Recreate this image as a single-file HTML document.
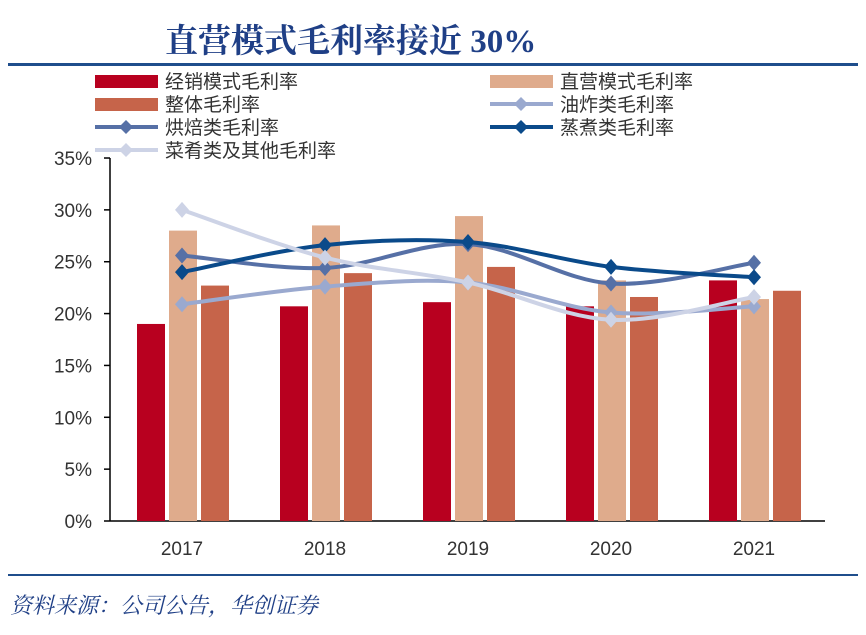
<!DOCTYPE html>
<html><head><meta charset="utf-8"><style>
body{margin:0;width:866px;height:635px;background:#fff;overflow:hidden;font-family:"Liberation Sans","Noto Sans CJK SC",sans-serif}
</style></head><body>
<svg id="s" width="866" height="635" xmlns="http://www.w3.org/2000/svg" style="position:absolute;left:0;top:0">
<text x="165" y="52" font-family="'Liberation Serif','Noto Serif CJK SC',serif" font-weight="bold" font-size="33" fill="#1F3F86">直营模式毛利率接近 30%</text>
<rect x="8" y="63" width="850" height="3" fill="#1F4E8C"/>
<rect x="8" y="574" width="850" height="2" fill="#1F4E8C"/>
<text x="10" y="613" font-family="'Liberation Serif','Noto Serif CJK SC',serif" font-style="italic" font-size="22" fill="#1F3F86">资料来源：公司公告，华创证券</text>
<g font-family="'Liberation Sans','Noto Sans CJK SC',sans-serif" font-size="19" fill="#333">
<rect x="95" y="75" width="63" height="13" fill="#B8001F"/><text x="165" y="88">经销模式毛利率</text>
<rect x="490" y="75" width="63" height="13" fill="#DFAB8C"/><text x="560" y="88">直营模式毛利率</text>
<rect x="95" y="98" width="63" height="13" fill="#C6644A"/><text x="165" y="111">整体毛利率</text>
<line x1="490" x2="553" y1="104" y2="104" stroke="#9AA9CF" stroke-width="4"/><path d="M521 97l7 7-7 7-7-7z" fill="#9AA9CF"/><text x="560" y="111">油炸类毛利率</text>
<line x1="95" x2="158" y1="127" y2="127" stroke="#5670A6" stroke-width="4"/><path d="M126 120l7 7-7 7-7-7z" fill="#5670A6"/><text x="165" y="134">烘焙类毛利率</text>
<line x1="490" x2="553" y1="127" y2="127" stroke="#0A4A8A" stroke-width="4"/><path d="M521 120l7 7-7 7-7-7z" fill="#0A4A8A"/><text x="560" y="134">蒸煮类毛利率</text>
<line x1="95" x2="158" y1="150" y2="150" stroke="#CDD3E6" stroke-width="4"/><path d="M126 143l7 7-7 7-7-7z" fill="#CDD3E6"/><text x="165" y="157">菜肴类及其他毛利率</text>
</g>
<g id="ax" font-size="19" fill="#333" font-family="'Liberation Sans',sans-serif"></g>
<g id="plot"></g>
</svg>
<script>
var ax=document.getElementById('ax'),pl=document.getElementById('plot'),NS='http://www.w3.org/2000/svg';
function el(p,t,a){var e=document.createElementNS(NS,t);for(var k in a)e.setAttribute(k,a[k]);p.appendChild(e);return e;}
function Y(v){return 521-v*10.371;}
el(ax,'line',{x1:110,x2:110,y1:158,y2:521,stroke:'#000','stroke-width':1.5});
el(ax,'line',{x1:110,x2:825,y1:521,y2:521,stroke:'#000','stroke-width':1.5});
for(var i=0;i<=7;i++){var y=Y(i*5);el(ax,'line',{x1:104,x2:110,y1:y,y2:y,stroke:'#000','stroke-width':1.5});
var t=el(ax,'text',{x:92,y:y+7,'text-anchor':'end'});t.textContent=(i*5)+'%';}
var cx=[182,325,468,611,754],yrs=['2017','2018','2019','2020','2021'];
for(var i=0;i<5;i++){var t=el(ax,'text',{x:cx[i],y:555,'text-anchor':'middle'});t.textContent=yrs[i];}
var bars=[[19.0,20.7,21.1,20.7,23.2],[28.0,28.5,29.4,23.2,21.4],[22.7,23.9,24.5,21.6,22.2]],bc=['#B8001F','#DFAB8C','#C6644A'];
for(var s=0;s<3;s++)for(var i=0;i<5;i++){var x=cx[i]-45+s*32;el(pl,'rect',{x:x,y:Y(bars[s][i]),width:28,height:521-Y(bars[s][i]),fill:bc[s]});}
var lines=[[[20.9,22.6,23.0,20.1,20.7],'#9AA9CF'],[[25.6,24.4,26.7,22.9,24.9],'#5670A6'],[[24.0,26.6,26.9,24.5,23.5],'#0A4A8A'],[[30.0,25.4,23.0,19.4,21.6],'#CDD3E6']];
lines.forEach(function(L){var p=L[0].map(function(v,i){return [cx[i],Y(v)];});
var d='M'+p[0];for(var i=0;i<4;i++){var p0=p[Math.max(i-1,0)],p1=p[i],p2=p[i+1],p3=p[Math.min(i+2,4)];
var c1=[p1[0]+(p2[0]-p0[0])/6,p1[1]+(p2[1]-p0[1])/6],c2=[p2[0]-(p3[0]-p1[0])/6,p2[1]-(p3[1]-p1[1])/6];d+='C'+c1+' '+c2+' '+p2;}
el(pl,'path',{d:d,fill:'none',stroke:L[1],'stroke-width':4});
p.forEach(function(q){el(pl,'path',{d:'M'+q[0]+' '+(q[1]-8)+'l7 8-7 8-7-8z',fill:L[1]});});});
</script>
</body></html>
